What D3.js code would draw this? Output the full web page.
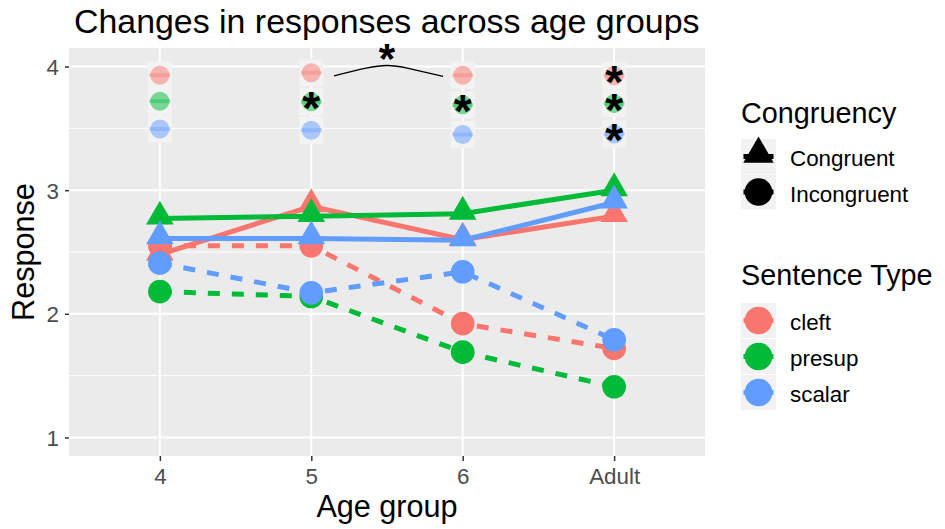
<!DOCTYPE html>
<html>
<head>
<meta charset="utf-8">
<script src="https://d3js.org/d3.v7.min.js"></script>
<style>
  body { margin: 0; background: #fff; }
  text { font-family: "Liberation Sans", Arial, sans-serif; }
</style>
</head>
<body>
<div id="chart"></div>
<script>
// categories
var ages = ["4", "5", "6", "Adult"];
var types = ["cleft", "presup", "scalar"];
var congruency = ["Congruent", "Incongruent"];
var yTicks = [1, 2, 3, 4];

// mean responses, congruent (triangles, solid)
var congCleft  = [2.48, 2.87, 2.60, 2.79];
var congPresup = [2.77, 2.79, 2.81, 3.00];
var congScalar = [2.61, 2.61, 2.595, 2.90];
// mean responses, incongruent (circles, dashed)
var incongCleft  = [2.55, 2.55, 1.92, 1.72];
var incongPresup = [2.18, 2.14, 1.69, 1.41];
var incongScalar = [2.41, 2.17, 2.34, 1.79];

// significance markers at the top
var sigCleft  = [3.93, 3.95, 3.93, 3.925];
var sigPresup = [3.72, 3.715, 3.69, 3.70];
var sigScalar = [3.495, 3.485, 3.45, 3.455];
var starCleft  = [false, false, false, true];
var starPresup = [false, true, true, true];
var starScalar = [false, false, false, true];

// bracket between 5 and 6 (offset from "5" in category steps, value)
var bracketX = [0.15, 0.38, 0.5, 0.62, 0.87];
var bracketY = [3.925, 3.995, 4.015, 3.995, 3.92];

var colors = {cleft: "#F8766D", presup: "#00BA38", scalar: "#619CFF"};

var W = 945, H = 529;
var panel = {left: 69, right: 705, top: 48, bottom: 456};

var svg = d3.select("#chart").append("svg")
    .attr("width", W)
    .attr("height", H);

var x = d3.scalePoint()
    .domain(ages)
    .range([panel.left, panel.right])
    .padding(0.6);

var y = d3.scaleLinear()
    .domain([0.85, 4.15])
    .range([panel.bottom, panel.top]);

// panel background + grid
svg.append("rect")
    .attr("x", panel.left).attr("y", panel.top)
    .attr("width", panel.right - panel.left)
    .attr("height", panel.bottom - panel.top)
    .attr("fill", "#EBEBEB");

var minor = [1.5, 2.5, 3.5];
svg.append("g").selectAll("line")
    .data(minor).enter().append("line")
    .attr("x1", panel.left).attr("x2", panel.right)
    .attr("y1", function(d) { return y(d); })
    .attr("y2", function(d) { return y(d); })
    .attr("stroke", "#fff").attr("stroke-width", 1);

svg.append("g").selectAll("line")
    .data(yTicks).enter().append("line")
    .attr("x1", panel.left).attr("x2", panel.right)
    .attr("y1", function(d) { return y(d); })
    .attr("y2", function(d) { return y(d); })
    .attr("stroke", "#fff").attr("stroke-width", 2);

svg.append("g").selectAll("line")
    .data(ages).enter().append("line")
    .attr("y1", panel.top).attr("y2", panel.bottom)
    .attr("x1", function(d) { return x(d); })
    .attr("x2", function(d) { return x(d); })
    .attr("stroke", "#fff").attr("stroke-width", 2);

// axes
var yAxis = svg.append("g")
    .attr("transform", "translate(" + panel.left + ",0)")
    .call(d3.axisLeft(y).tickValues(yTicks).tickFormat(d3.format("d")).tickSize(4).tickPadding(6));
var xAxis = svg.append("g")
    .attr("transform", "translate(0," + panel.bottom + ")")
    .call(d3.axisBottom(x).tickSize(5).tickPadding(6));

[yAxis, xAxis].forEach(function(a) {
    a.select(".domain").remove();
    a.selectAll(".tick line").attr("stroke", "#333").attr("stroke-width", 1.5);
    a.selectAll(".tick text")
        .attr("fill", "#4D4D4D")
        .style("font-size", "22.4px")
        .style("font-family", "'Liberation Sans', Arial, sans-serif");
});
yAxis.selectAll(".tick text").attr("dy", "0.36em");
xAxis.selectAll(".tick text").attr("dy", "0.76em");

// series
var series = [
    {type: "cleft",  cong: "Congruent",   values: congCleft},
    {type: "cleft",  cong: "Incongruent", values: incongCleft},
    {type: "presup", cong: "Congruent",   values: congPresup},
    {type: "presup", cong: "Incongruent", values: incongPresup},
    {type: "scalar", cong: "Congruent",   values: congScalar},
    {type: "scalar", cong: "Incongruent", values: incongScalar}
];

var line = d3.line()
    .x(function(d, i) { return x(ages[i]); })
    .y(function(d) { return y(d); });

svg.append("g").selectAll("path")
    .data(series).enter().append("path")
    .attr("d", function(s) { return line(s.values); })
    .attr("fill", "none")
    .attr("stroke", function(s) { return colors[s.type]; })
    .attr("stroke-width", 5)
    .attr("stroke-dasharray", function(s) { return s.cong == "Congruent" ? null : "12,12"; });

var tri = d3.symbol().type(d3.symbolTriangle).size(330);
var circ = d3.symbol().type(d3.symbolCircle).size(440);

series.forEach(function(s) {
    svg.append("g").selectAll("path")
        .data(s.values).enter().append("path")
        .attr("transform", function(d, i) {
            // triangle centroid sits a bit low, nudge up
            var dy = s.cong == "Congruent" ? -2 : 0;
            return "translate(" + x(ages[i]) + "," + (y(d) + dy) + ")";
        })
        .attr("d", s.cong == "Congruent" ? tri : circ)
        .attr("fill", colors[s.type]);
});

// significance markers
var sig = [
    {type: "cleft",  values: sigCleft,  stars: starCleft},
    {type: "presup", values: sigPresup, stars: starPresup},
    {type: "scalar", values: sigScalar, stars: starScalar}
];

sig.forEach(function(s) {
    var g = svg.append("g").selectAll("g")
        .data(s.values).enter().append("g")
        .attr("transform", function(d, i) {
            return "translate(" + x(ages[i]) + "," + y(d) + ")";
        });
    g.append("rect")
        .attr("x", -12).attr("y", -13.5)
        .attr("width", 24).attr("height", 27)
        .attr("fill", "#F3F3F3");
    g.append("circle")
        .attr("r", 9.5)
        .attr("fill", colors[s.type])
        .attr("fill-opacity", 0.5);
    g.append("line")
        .attr("x1", -10.5).attr("x2", 10.5)
        .attr("stroke", colors[s.type])
        .attr("stroke-opacity", 0.35)
        .attr("stroke-width", 4);
    g.filter(function(d, i) { return s.stars[i]; })
        .append("text")
        .attr("text-anchor", "middle")
        .attr("y", 22)
        .style("font-size", "46px")
        .style("font-weight", "bold")
        .attr("fill", "#000")
        .text("*");
});

// bracket 5 vs 6
var step = x.step();
var bracket = d3.line()
    .curve(d3.curveBasis)
    .x(function(d, i) { return x("5") + d * step; })
    .y(function(d, i) { return y(bracketY[i]); });

svg.append("path")
    .attr("d", bracket(bracketX))
    .attr("fill", "none")
    .attr("stroke", "#000")
    .attr("stroke-width", 1.3);

svg.append("text")
    .attr("x", x("5") + 0.5 * step)
    .attr("y", y(4.015) + 8)
    .attr("text-anchor", "middle")
    .style("font-size", "42px")
    .style("font-weight", "bold")
    .text("*");

// titles
svg.append("text")
    .attr("x", 74).attr("y", 33)
    .style("font-size", "33.9px")
    .text("Changes in responses across age groups");

svg.append("text")
    .attr("x", (panel.left + panel.right) / 2)
    .attr("y", 517)
    .attr("text-anchor", "middle")
    .style("font-size", "30.6px")
    .text("Age group");

svg.append("text")
    .attr("transform", "translate(34," + ((panel.top + panel.bottom) / 2) + ") rotate(-90)")
    .attr("text-anchor", "middle")
    .style("font-size", "30.6px")
    .text("Response");

// legends
var lg1 = svg.append("g").attr("transform", "translate(741,0)");
lg1.append("text").attr("y", 123).style("font-size", "28.8px").text("Congruency");
var k1 = lg1.selectAll("g.key").data(congruency).enter().append("g")
    .attr("class", "key")
    .attr("transform", function(d, i) { return "translate(0," + (139 + i * 35.5) + ")"; });
k1.append("rect").attr("width", 35).attr("height", 35).attr("fill", "#F2F2F2");
k1.append("line")
    .attr("x1", 2.5).attr("x2", 32.5).attr("y1", 17.5).attr("y2", 17.5)
    .attr("stroke", "#000").attr("stroke-width", 5);
k1.append("path")
    .attr("transform", function(d) { return "translate(17.5," + (d == "Congruent" ? 15 : 17.5) + ")"; })
    .attr("d", function(d) {
        return d == "Congruent" ? d3.symbol().type(d3.symbolTriangle).size(400)()
                                : d3.symbol().type(d3.symbolCircle).size(600)();
    })
    .attr("fill", "#000");
k1.append("text")
    .attr("x", 49).attr("y", 27)
    .style("font-size", "22.4px")
    .text(function(d) { return d; });

var lg2 = svg.append("g").attr("transform", "translate(741,0)");
lg2.append("text").attr("y", 285).style("font-size", "28.8px").text("Sentence Type");
var k2 = lg2.selectAll("g.key").data(types).enter().append("g")
    .attr("class", "key")
    .attr("transform", function(d, i) { return "translate(0," + (303 + i * 36) + ")"; });
k2.append("rect").attr("width", 35).attr("height", 35).attr("fill", "#F2F2F2");
k2.append("line")
    .attr("x1", 2.5).attr("x2", 32.5).attr("y1", 17.5).attr("y2", 17.5)
    .attr("stroke", function(d) { return colors[d]; }).attr("stroke-width", 5);
k2.append("path")
    .attr("transform", "translate(17.5,17.5)")
    .attr("d", d3.symbol().type(d3.symbolCircle).size(600))
    .attr("fill", function(d) { return colors[d]; });
k2.append("text")
    .attr("x", 49).attr("y", 27)
    .style("font-size", "22.4px")
    .text(function(d) { return d; });
</script>
</body>
</html>
